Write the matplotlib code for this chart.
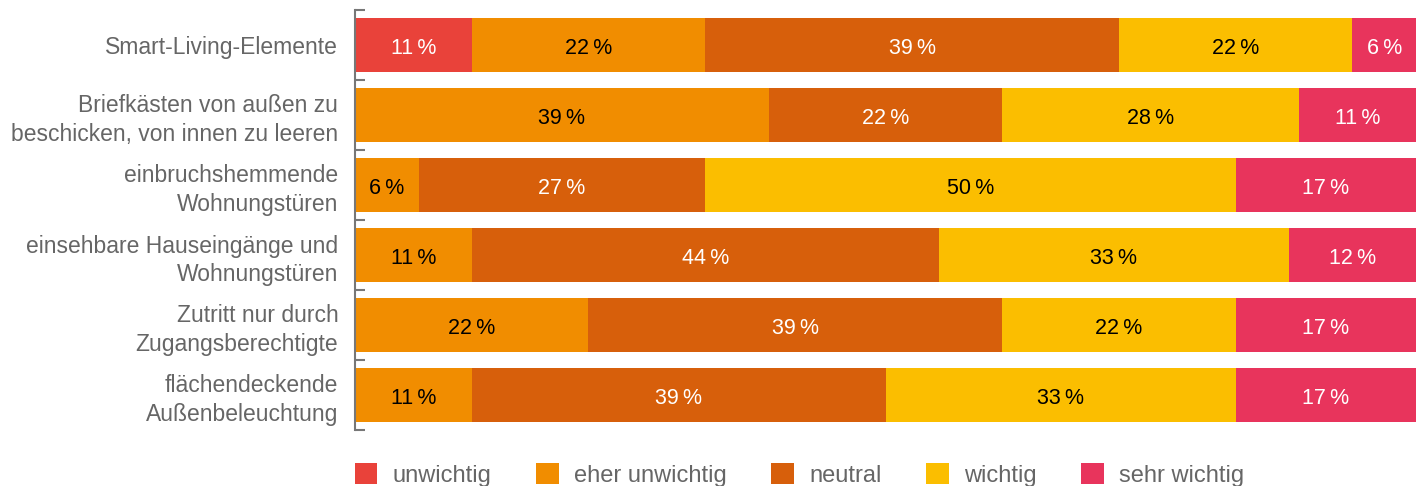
import matplotlib.pyplot as plt
import numpy as np
from matplotlib.patches import Patch

# Kategorien (von oben nach unten)
categories = [
    "Smart-Living-Elemente",
    "Briefkästen von außen zu\nbeschicken, von innen zu leeren",
    "einbruchshemmende\nWohnungstüren",
    "einsehbare Hauseingänge und\nWohnungstüren",
    "Zutritt nur durch\nZugangsberechtigte",
    "flächendeckende\nAußenbeleuchtung",
]

series = ["unwichtig", "eher unwichtig", "neutral", "wichtig", "sehr wichtig"]

unwichtig = [11, 0, 0, 0, 0, 0]
eher_unwichtig = [22, 39, 6, 11, 22, 11]
neutral = [39, 22, 27, 44, 39, 39]
wichtig = [22, 28, 50, 33, 22, 33]
sehr_wichtig = [6, 11, 17, 12, 17, 17]

colors = ["#E9423A", "#F18D00", "#D75F0B", "#FBBE00", "#E8345C"]
text_colors = ["white", "black", "white", "black", "white"]

plt.rcParams["font.family"] = ["Liberation Sans", "DejaVu Sans"]

fig = plt.figure(figsize=(14.23, 4.86), dpi=100)
ax = fig.add_axes([355 / 1423, 1 - 430 / 486, (1416 - 355) / 1423, 420 / 486])

y = np.arange(len(categories))
left = np.zeros(len(categories))
for name, vals, col, tcol in zip(series,
                                 [unwichtig, eher_unwichtig, neutral, wichtig, sehr_wichtig],
                                 colors, text_colors):
    vals = np.array(vals, dtype=float)
    ax.barh(y, vals, left=left, height=0.76, color=col, edgecolor="none", label=name)
    for yi, (l, v) in enumerate(zip(left, vals)):
        if v > 0:
            # leicht nach unten versetzt, damit die Ziffern optisch mittig sitzen
            ax.text(l + v / 2, yi + 0.045, f"{int(v)}\u2009%", ha="center", va="center",
                    fontsize=15.5, color=tcol)
    left += vals

ax.set_xlim(0, 100)
ax.set_ylim(len(categories) - 0.5, -0.5)

ax.set_yticks(y)
ax.set_yticklabels(categories, fontsize=16.5, color="#666666", linespacing=1.3)
ax.tick_params(axis="y", which="major", length=0, pad=12)
ax.set_yticks(np.arange(-0.5, len(categories)), minor=True)
ax.tick_params(axis="y", which="minor", direction="in", length=7, width=1.5, color="#777777")
for lbl in ax.get_yticklabels():
    lbl.set_horizontalalignment("right")

ax.set_xticks([])
for s in ["top", "right", "bottom"]:
    ax.spines[s].set_visible(False)
ax.spines["left"].set_color("#777777")
ax.spines["left"].set_linewidth(1.5)

handles = [Patch(facecolor=c, edgecolor="none") for c in colors]
fig.legend(handles, series, loc="center left", bbox_to_anchor=(355 / 1423, 1 - 475 / 486),
           ncol=5, frameon=False, fontsize=17, labelcolor="#666666",
           borderpad=0, borderaxespad=0,
           handlelength=0.95, handleheight=0.95, handletextpad=0.64, columnspacing=1.9)

fig.savefig("out.png", dpi=100)
